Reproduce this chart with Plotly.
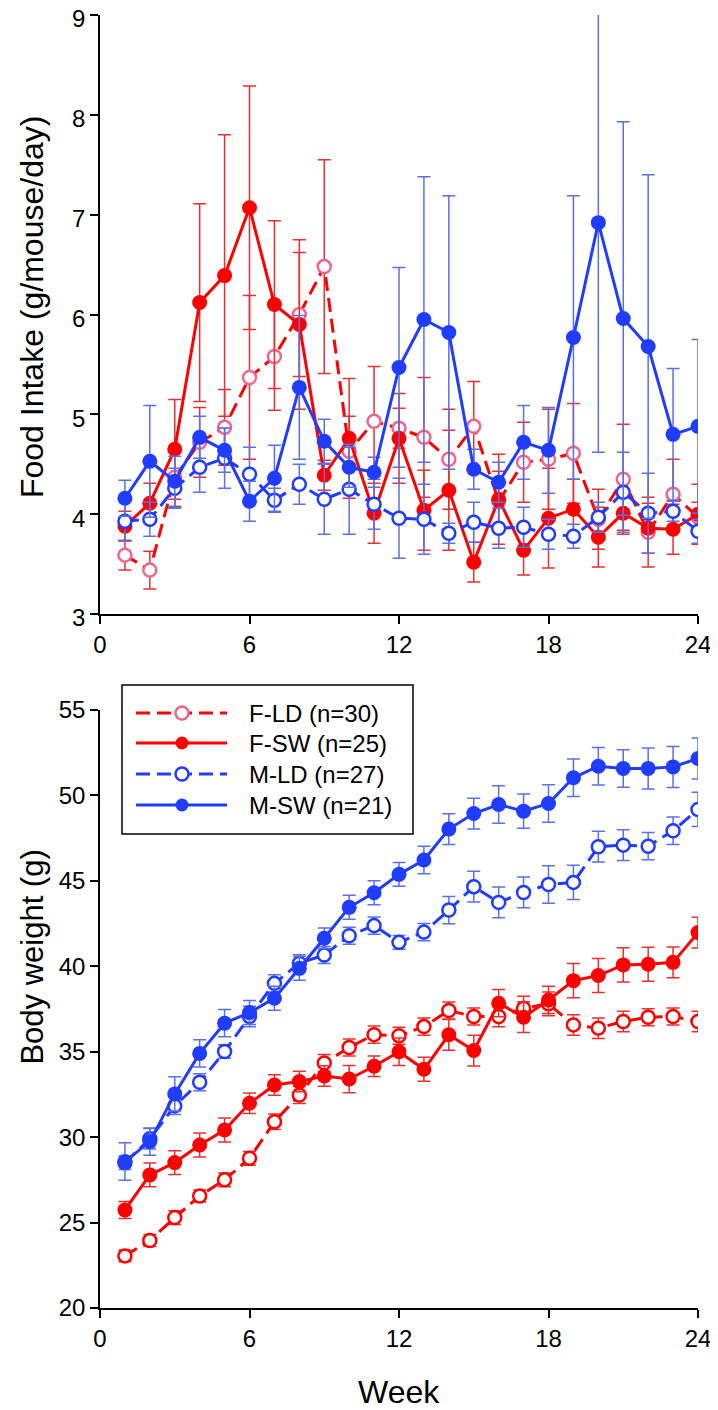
import plotly.graph_objects as go

# Weeks of the study
weeks = list(range(1, 25))

# Food intake (g/mouse/day), mean and error
fi_fld = [3.59, 3.44, 4.37, 4.72, 4.87, 5.37, 5.58, 6.00, 6.48, 4.63, 4.93, 4.86,
          4.77, 4.55, 4.88, 4.13, 4.52, 4.55, 4.61, 3.95, 4.35, 3.82, 4.20, 3.97]
fi_fld_err = [0.15, 0.19, 0.30, 0.35, 0.38, 0.82, 0.54, 0.62, 1.07, 0.35, 0.55, 0.20,
              0.60, 0.50, 0.45, 0.30, 0.40, 0.50, 0.50, 0.30, 0.55, 0.35, 0.35, 0.15]
fi_fsw = [3.88, 4.11, 4.65, 6.12, 6.39, 7.07, 6.10, 5.90, 4.39, 4.76, 4.01, 4.76,
          4.04, 4.24, 3.52, 4.15, 3.64, 3.96, 4.05, 3.77, 4.01, 3.86, 3.85, 4.00]
fi_fsw_err = [0.15, 0.20, 0.50, 0.99, 1.41, 1.22, 0.84, 0.85, 0.15, 0.60, 0.30, 0.45,
              0.40, 0.60, 0.20, 0.45, 0.25, 0.50, 0.30, 0.30, 0.17, 0.25, 0.25, 0.30]
fi_mld = [3.93, 3.95, 4.26, 4.47, 4.56, 4.40, 4.14, 4.30, 4.15, 4.25, 4.10, 3.96,
          3.95, 3.81, 3.92, 3.86, 3.87, 3.80, 3.78, 3.97, 4.22, 4.01, 4.03, 3.83]
fi_mld_err = [0.20, 0.17, 0.20, 0.25, 0.30, 0.27, 0.12, 0.20, 0.35, 0.45, 0.25, 0.40,
              0.35, 0.10, 0.20, 0.20, 0.20, 0.15, 0.12, 0.15, 0.40, 0.40, 0.10, 0.12]
fi_msw = [4.16, 4.53, 4.33, 4.77, 4.64, 4.13, 4.36, 5.27, 4.73, 4.47, 4.42, 5.47,
          5.95, 5.82, 4.45, 4.32, 4.72, 4.64, 5.77, 6.92, 5.96, 5.68, 4.80, 4.88]
fi_msw_err = [0.18, 0.56, 0.25, 0.21, 0.22, 0.20, 0.33, 0.72, 0.22, 0.20, 0.15, 1.00,
              1.43, 1.37, 0.20, 0.20, 0.37, 0.43, 1.42, 2.30, 1.97, 1.72, 0.66, 0.87]

# Body weight (g), mean and error
bw_fld = [23.05, 23.95, 25.29, 26.56, 27.50, 28.76, 30.90, 32.47, 34.34, 35.25, 36.00, 35.93,
          36.47, 37.41, 37.06, 37.06, 37.55, 37.80, 36.57, 36.38, 36.77, 37.02, 37.06, 36.77]
bw_fld_err = [0.35, 0.35, 0.40, 0.35, 0.40, 0.40, 0.45, 0.50, 0.50, 0.50, 0.50, 0.50,
              0.50, 0.50, 0.50, 0.60, 0.70, 0.70, 0.60, 0.60, 0.60, 0.50, 0.50, 0.60]
bw_fsw = [25.74, 27.79, 28.51, 29.54, 30.42, 31.98, 33.05, 33.25, 33.58, 33.40, 34.15, 35.00,
          33.97, 35.99, 35.07, 37.84, 37.02, 38.03, 39.16, 39.46, 40.08, 40.12, 40.23, 41.97]
bw_fsw_err = [0.50, 0.70, 0.70, 0.70, 0.70, 0.60, 0.60, 0.60, 0.60, 0.80, 0.60, 0.80,
              0.70, 0.90, 0.90, 0.80, 0.90, 0.80, 1.00, 1.00, 1.00, 1.00, 0.90, 0.90]
bw_mld = [28.50, 29.90, 31.83, 33.21, 35.01, 37.06, 39.00, 40.18, 40.66, 41.79, 42.38, 41.40,
          42.00, 43.29, 44.66, 43.74, 44.32, 44.79, 44.91, 47.00, 47.09, 47.03, 47.93, 49.18]
bw_mld_err = [0.40, 0.60, 0.50, 0.50, 0.40, 0.60, 0.50, 0.50, 0.50, 0.50, 0.50, 0.40,
              0.50, 0.80, 0.90, 0.90, 0.90, 1.10, 1.00, 0.90, 0.90, 0.80, 0.80, 1.00]
bw_msw = [28.57, 29.74, 32.53, 34.90, 36.67, 37.29, 38.13, 39.88, 41.64, 43.45, 44.30, 45.38,
          46.22, 48.03, 48.94, 49.47, 49.08, 49.53, 51.03, 51.71, 51.58, 51.58, 51.67, 52.16]
bw_msw_err = [1.10, 0.80, 1.00, 0.80, 0.80, 0.70, 0.70, 0.70, 0.60, 0.70, 0.70, 0.70,
              0.80, 0.90, 0.90, 1.10, 1.00, 1.10, 1.10, 1.10, 1.10, 1.20, 1.20, 1.20]

group_names = ["F-LD (n=30)", "F-SW (n=25)", "M-LD (n=27)", "M-SW (n=21)"]

RED = "#ff0000"
PINK = "#ee6690"
BLUE = "#1f3cff"
RED_ERR = "#e83030"
BLUE_ERR = "#5a70e6"
DASH = "14px,7px"
FONT = "Liberation Sans, Arial, sans-serif"

# style per group: line colour, marker edge, filled?, dashed?
styles = [
    (RED, PINK, False, True),
    (RED, RED, True, False),
    (BLUE, BLUE, False, True),
    (BLUE, BLUE, True, False),
]


def add_series(fig, y, err, style, err_color, xaxis, yaxis, name):
    line_color, marker_edge, filled, dashed = style
    fig.add_trace(go.Scatter(
        x=weeks, y=y,
        mode="lines+markers",
        name=name,
        showlegend=False,
        xaxis=xaxis, yaxis=yaxis,
        line=dict(color=line_color, width=3, dash=DASH if dashed else "solid"),
        marker=dict(
            symbol="circle",
            size=15 if filled else 13,
            color=line_color if filled else "white",
            line=dict(color=marker_edge, width=0 if filled else 2.5),
        ),
        error_y=dict(type="data", array=err, color=err_color, thickness=1.5, width=6.5),
        cliponaxis=True,
    ))


fig = go.Figure()

# Top panel: food intake
top = [(fi_fld, fi_fld_err), (fi_fsw, fi_fsw_err), (fi_mld, fi_mld_err), (fi_msw, fi_msw_err)]
for i, (y, e) in enumerate(top):
    add_series(fig, y, e, styles[i], RED_ERR if i < 2 else BLUE_ERR, "x", "y", group_names[i])

# Bottom panel: body weight (LD markers are plain red here)
bottom = [(bw_fld, bw_fld_err), (bw_fsw, bw_fsw_err), (bw_mld, bw_mld_err), (bw_msw, bw_msw_err)]
for i, (y, e) in enumerate(bottom):
    st = (styles[i][0], styles[i][0], styles[i][2], styles[i][3])
    add_series(fig, y, e, st, RED_ERR if i < 2 else BLUE_ERR, "x2", "y2", group_names[i])


# Hand-drawn legend box (page pixels -> paper coords of the plot area)
def px(x):
    return (x - 100) / 598


def py(y):
    return (1308 - y) / 1293


shapes = [dict(type="rect", xref="paper", yref="paper", x0=px(122), x1=px(413),
               y0=py(834), y1=py(685), line=dict(color="black", width=1.5),
               fillcolor="white", layer="above")]
annotations = []
row_y = [713, 743, 774, 805]
for i, name in enumerate(group_names):
    line_color, marker_edge, filled, dashed = styles[i]
    shapes.append(dict(type="line", xref="paper", yref="paper",
                       x0=px(136), x1=px(227), y0=py(row_y[i]), y1=py(row_y[i]),
                       line=dict(color=line_color, width=3, dash=DASH if dashed else "solid"),
                       layer="above"))
    shapes.append(dict(type="circle", xref="paper", yref="paper",
                       xsizemode="pixel", ysizemode="pixel",
                       xanchor=px(182), yanchor=py(row_y[i]),
                       x0=-6.5, x1=6.5, y0=-6.5, y1=6.5,
                       fillcolor=line_color if filled else "white",
                       line=dict(color=marker_edge, width=0 if filled else 2.5),
                       layer="above"))
    annotations.append(dict(text=name, xref="paper", yref="paper",
                            x=px(247), y=py(row_y[i]), xanchor="left", yanchor="middle",
                            showarrow=False, font=dict(family=FONT, size=24, color="black")))

annotations += [
    dict(text="Food Intake (g/mouse/day)", xref="paper", yref="paper",
         x=-0.114, y=0.774, xanchor="center", yanchor="middle", textangle=-90,
         showarrow=False, font=dict(family=FONT, size=32, color="black")),
    dict(text="Body weight (g)", xref="paper", yref="paper",
         x=-0.112, y=0.271, xanchor="center", yanchor="middle", textangle=-90,
         showarrow=False, font=dict(family=FONT, size=31, color="black")),
    dict(text="Week", xref="paper", yref="paper",
         x=0.5, y=-0.065, xanchor="center", yanchor="middle",
         showarrow=False, font=dict(family=FONT, size=32, color="black")),
]

axis_common = dict(
    showline=True, linecolor="black", linewidth=1.5,
    ticks="outside", ticklen=8, tickwidth=1.5, tickcolor="black",
    showgrid=False, zeroline=False, mirror=False, automargin=False,
    ticklabeloverflow="allow",
    tickfont=dict(family=FONT, size=24, color="black"),
)

# the page body adds an 8px margin, so the figure is a bit smaller than the window
fig.update_layout(
    width=710, height=1402,
    paper_bgcolor="white", plot_bgcolor="white",
    margin=dict(l=92, r=20, t=7, b=102),
    font=dict(family=FONT, color="black"),
    xaxis=dict(domain=[0, 1], anchor="y", range=[0, 24], tickvals=[0, 6, 12, 18, 24], **axis_common),
    # labels nudged down a little so the top "9" is not cut by the page edge
    yaxis=dict(domain=[0.5367, 1], anchor="x", range=[3, 9], dtick=1, ticklabelshift=4,
               **axis_common),
    xaxis2=dict(domain=[0, 1], anchor="y2", range=[0, 24], tickvals=[0, 6, 12, 18, 24], **axis_common),
    yaxis2=dict(domain=[0, 0.4625], anchor="x2", range=[20, 55], dtick=5, **axis_common),
    showlegend=False,
    shapes=shapes,
    annotations=annotations,
)

fig.write_html("out.html")
